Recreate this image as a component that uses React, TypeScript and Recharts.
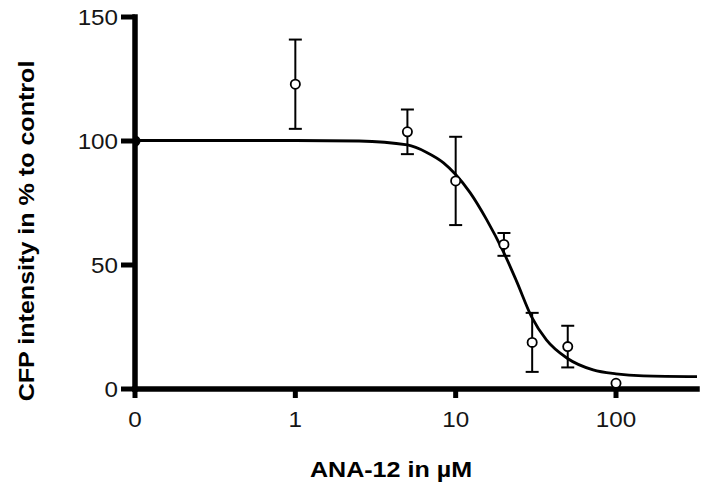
import { ComposedChart, Line, Scatter, ErrorBar, XAxis, YAxis, Label, ReferenceLine } from 'recharts';

// ANA-12 concentration in µM; 0.1 stands in for the untreated control shown as "0" on the log axis
const doses = [0.1, 1, 5, 10, 20, 30, 50, 100];
const means = [100, 122.9, 103.7, 83.9, 58.3, 18.8, 17.1, 2.3];
const errors = [0, 18, 9, 17.8, 4.6, 11.9, 8.4, 0];

// fitted dose-response curve
const fitDoses = [0.1, 1, 2.5, 5, 6.6, 8.4, 10, 12.3, 15.6, 19.8, 24, 29.7, 36.8, 49.6, 72, 100, 148, 320];
const fitValues = [100.2, 100.2, 100, 98.4, 95.4, 91.2, 86.5, 79.2, 68.3, 55.5, 43.4, 29.2, 19.8, 12.4, 7.7, 6.1, 5.3, 5.0];

const xTicks = [0.1, 1, 10, 100];
const xTickLabels = ['0', '1', '10', '100'];
const yTicks = [0, 50, 100, 150];

const points = doses.map((c, i) => ({ c, m: means[i], e: errors[i] }));
const curve = fitDoses.map((c, i) => ({ c, v: fitValues[i] }));

const FONT = '"Liberation Sans", Arial, sans-serif';
const STRETCH = 1.14;
const Y_TICK_SIZE = 14;
const Y_TICK_GAP = 3;
const X_TICK_SIZE = 9;

// custom ticks draw their own thick tick marks
const YTick = (props: any) => {
  const { x, y, payload } = props;
  return (
    <g>
      <line x1={x + Y_TICK_GAP} y1={y} x2={x + Y_TICK_GAP + Y_TICK_SIZE} y2={y} stroke="#000" strokeWidth={5} />
      <text
        transform={`translate(${x},${y}) scale(1.1,1)`}
        textAnchor="end"
        dominantBaseline="central"
        fontFamily={FONT}
        fontSize={22}
        fill="#151515"
      >
        {payload.value}
      </text>
    </g>
  );
};

const XTick = (props: any) => {
  const { x, y, payload } = props;
  const idx = xTicks.indexOf(payload.value);
  return (
    <g>
      <line x1={x} y1={y - X_TICK_SIZE} x2={x} y2={y} stroke="#000" strokeWidth={5} />
      <text
        transform={`translate(${x},${y + 29}) scale(1.1,1)`}
        textAnchor="middle"
        fontFamily={FONT}
        fontSize={22}
        fill="#151515"
      >
        {xTickLabels[idx]}
      </text>
    </g>
  );
};

const Marker = (props: any) => {
  const { cx, cy, payload } = props;
  const isControl = payload && payload.c === doses[0];
  return (
    <circle cx={cx} cy={cy} r={4.6} fill={isControl ? '#000' : '#fff'} stroke="#000" strokeWidth={1.8} />
  );
};

export default function App() {
  return (
    <div style={{ position: 'absolute', left: 0, top: 0, width: 705, height: 483, background: '#fff' }}>
      <ComposedChart width={705} height={483} margin={{ top: 17, right: 8, left: 0, bottom: 0 }}>
        <XAxis
          dataKey="c"
          type="number"
          scale="log"
          domain={[0.1, 320]}
          ticks={xTicks}
          allowDataOverflow
          height={94}
          axisLine={false}
          tickLine={false}
          tickSize={X_TICK_SIZE}
          tickMargin={0}
          tick={<XTick />}
        >
          <Label
            content={() => (
              <text
                transform={`translate(391,476.5) scale(${STRETCH},1)`}
                textAnchor="middle"
                fontFamily={FONT}
                fontWeight="bold"
                fontSize={22}
                fill="#000"
              >
                ANA-12 in µM
              </text>
            )}
          />
        </XAxis>
        <YAxis
          type="number"
          domain={[0, 150]}
          ticks={yTicks}
          width={135}
          axisLine={false}
          tickLine={false}
          tickSize={Y_TICK_SIZE}
          tickMargin={Y_TICK_GAP}
          tick={<YTick />}
        >
          <Label
            content={() => (
              <text
                transform={`translate(33.5,231) rotate(-90) scale(${STRETCH},1)`}
                textAnchor="middle"
                fontFamily={FONT}
                fontWeight="bold"
                fontSize={22}
                fill="#000"
              >
                CFP intensity in % to control
              </text>
            )}
          />
        </YAxis>
        <ReferenceLine x={0.1} stroke="#000" strokeWidth={5.5} strokeLinecap="square" />
        <ReferenceLine y={0} stroke="#000" strokeWidth={5.5} strokeLinecap="square" />
        <Line
          data={curve}
          dataKey="v"
          type="monotone"
          stroke="#000"
          strokeWidth={2.8}
          dot={false}
          activeDot={false}
          isAnimationActive={false}
        />
        <Scatter data={points} dataKey="m" shape={<Marker />} isAnimationActive={false}>
          <ErrorBar dataKey="e" direction="y" width={6.5} stroke="#000" strokeWidth={2} />
        </Scatter>
      </ComposedChart>
    </div>
  );
}
